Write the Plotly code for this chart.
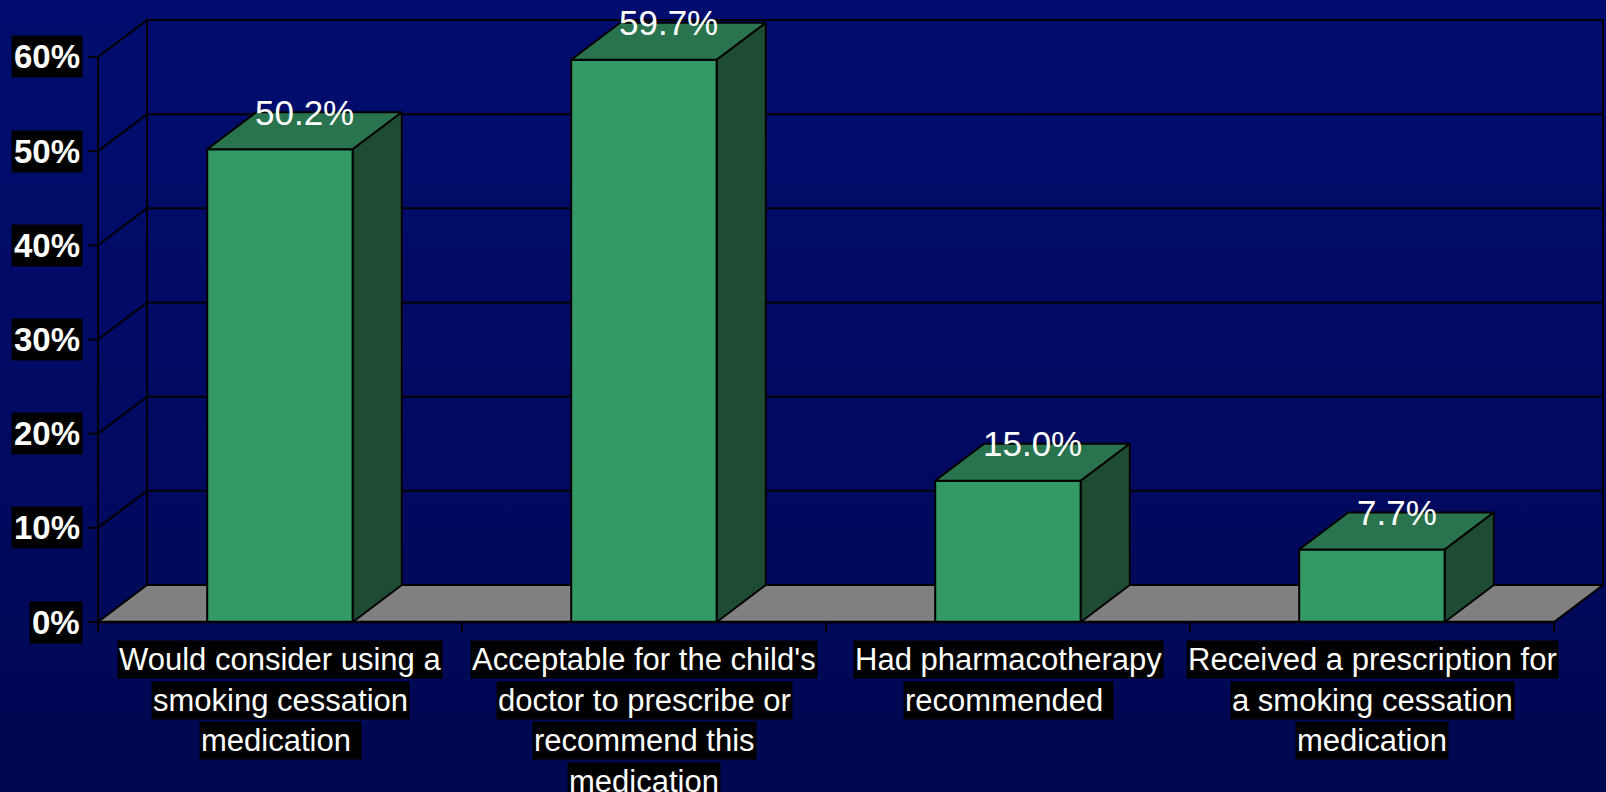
import base64
import plotly.graph_objects as go

# ---------------- data ----------------
category_lines = [
    ["Would consider using a", "smoking cessation", "medication\u00a0"],
    ["Acceptable for the child's", "doctor to prescribe or", "recommend this", "medication"],
    ["Had pharmacotherapy", "recommended\u00a0"],
    ["Received a prescription for", "a smoking cessation", "medication"],
]
values = [50.2, 59.7, 15.0, 7.7]
value_labels = ["50.2%", "59.7%", "15.0%", "7.7%"]
y_ticks = [0, 10, 20, 30, 40, 50, 60]
y_tick_labels = ["0%", "10%", "20%", "30%", "40%", "50%", "60%"]

# ---------------- geometry / style ----------------
W, H = 1606, 792
PX_X = 364.0            # pixels per category
PX_Y = 9.417            # pixels per percent
X0_PX, Y0_PX = 98, 622  # pixel position of origin
DX = 49 / PX_X          # depth offset in x units
DY = 37 / PX_Y          # depth offset in y units
HALF = 0.2              # half bar width
N = len(values)
YMAX = y_ticks[-1]

FRONT = "#339966"
TOP = "#29744E"
SIDE = "#1D4C33"
FLOOR = "#808080"
FONT = "Liberation Sans, Arial, sans-serif"

xr = [-X0_PX / PX_X, (W - X0_PX) / PX_X]
yr = [-(H - Y0_PX) / PX_Y, Y0_PX / PX_Y]

fig = go.Figure()


def poly(xs, ys, fill=None, width=2.0):
    if fill:
        fig.add_trace(go.Scatter(x=xs + [xs[0]], y=ys + [ys[0]], mode="lines", fill="toself",
                                 fillcolor=fill, line=dict(color="black", width=width),
                                 hoverinfo="skip", showlegend=False))
    else:
        fig.add_trace(go.Scatter(x=xs, y=ys, mode="lines",
                                 line=dict(color="black", width=width),
                                 hoverinfo="skip", showlegend=False))


# floor
poly([0, N, N + DX, DX], [0, 0, DY, DY], fill=FLOOR, width=2)

# back wall gridlines + side wall diagonals
for t in y_ticks[1:]:
    poly([0, DX, N + DX], [t, t + DY, t + DY], width=2)
# walls verticals
poly([0, 0], [-10 / PX_Y, YMAX], width=2)
poly([DX, DX], [DY, YMAX + DY], width=2)
poly([N + DX, N + DX], [DY, YMAX + DY], width=2)

# bars
for i, v in enumerate(values):
    c = i + 0.5
    l, r = c - HALF, c + HALF
    poly([l, r, r, l], [0, 0, v, v], fill=FRONT, width=2)
    poly([l, r, r + DX, l + DX], [v, v, v + DY, v + DY], fill=TOP, width=2)
    poly([r, r + DX, r + DX, r], [0, DY, v + DY, v], fill=SIDE, width=2)

# front axis line and ticks
poly([0, N], [0, 0], width=2.5)
for k in range(N + 1):
    poly([k, k], [0, -10 / PX_Y], width=2)
for t in y_ticks:
    poly([-10 / PX_X, 0], [t, t], width=2)

annotations = []
# y tick labels
for t, lab in zip(y_ticks, y_tick_labels):
    annotations.append(dict(x=0, y=t, xref="x", yref="y", text="<b>%s</b>" % lab,
                            showarrow=False, xanchor="right", yanchor="middle", xshift=-15,
                            font=dict(family=FONT, size=33, color="white"),
                            bgcolor="black", borderpad=2))
# value labels
for i, (v, lab) in enumerate(zip(values, value_labels)):
    annotations.append(dict(x=i + 0.5 + DX / 2, y=v + DY, xref="x", yref="y", text=lab,
                            showarrow=False, xanchor="center", yanchor="middle", yshift=0,
                            font=dict(family=FONT, size=35, color="white")))
# category labels (one box per line)
for i, lines in enumerate(category_lines):
    for j, ln in enumerate(lines):
        annotations.append(dict(x=i + 0.5, y=0, xref="x", yref="y", text=ln,
                                showarrow=False, xanchor="center", yanchor="middle",
                                yshift=-(37.5 + 40.5 * j),
                                font=dict(family=FONT, size=31, color="white"),
                                bgcolor="black", borderpad=1))

svg = ('<svg xmlns="http://www.w3.org/2000/svg" width="%d" height="%d" viewBox="0 0 %d %d" '
       'preserveAspectRatio="none"><defs><linearGradient id="g" x1="0" y1="0" x2="0" y2="1">'
       '<stop offset="0" stop-color="#000D6E"/><stop offset="0.5" stop-color="#010A63"/>'
       '<stop offset="1" stop-color="#000851"/></linearGradient></defs>'
       '<rect width="100%%" height="100%%" fill="url(#g)"/></svg>') % (W, H, W, H)
src = "data:image/svg+xml;base64," + base64.b64encode(svg.encode()).decode()

fig.update_layout(
    width=W, height=H,
    margin=dict(l=0, r=0, t=0, b=0),
    paper_bgcolor="#010A63",
    plot_bgcolor="rgba(0,0,0,0)",
    xaxis=dict(range=xr, visible=False, fixedrange=True),
    yaxis=dict(range=yr, visible=False, fixedrange=True),
    annotations=annotations,
    images=[dict(source=src, xref="paper", yref="paper", x=0, y=1, sizex=1, sizey=1,
                 xanchor="left", yanchor="top", sizing="stretch", layer="below")],
    showlegend=False,
)

fig.write_html("out.html", config={"displayModeBar": False},
               post_script="document.body.style.margin='0px';document.body.style.overflow='hidden';")
